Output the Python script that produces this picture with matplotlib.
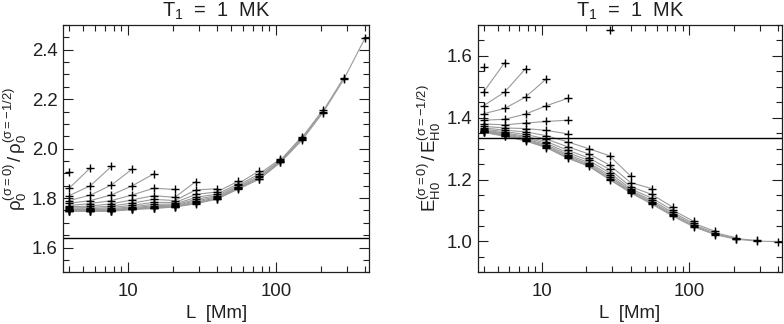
import numpy as np
import matplotlib
matplotlib.use('Agg')
import matplotlib.pyplot as plt
from matplotlib.ticker import LogLocator, MultipleLocator, FixedLocator, FixedFormatter, NullFormatter

plt.rcParams['font.family'] = ['Liberation Sans', 'DejaVu Sans']
plt.rcParams['mathtext.fontset'] = 'custom'
plt.rcParams['mathtext.rm'] = 'Liberation Sans'
plt.rcParams['mathtext.it'] = 'Liberation Sans:italic'
plt.rcParams['mathtext.default'] = 'regular'

# loop lengths L [Mm]
L_values = [4.0, 5.56, 7.72, 10.7, 14.9, 20.7, 28.7, 39.9, 55.4, 76.9, 107, 149, 207, 287, 400]

# Left panel: rho ratio; for each L, values from the curve ending at that L down to the lowest curve
rho_c00 = [1.905, 1.840, 1.810, 1.790, 1.779, 1.770, 1.765, 1.760, 1.756, 1.753, 1.751, 1.750, 1.749, 1.748, 1.747]
rho_c01 = [1.922, 1.850, 1.812, 1.790, 1.778, 1.768, 1.762, 1.757, 1.754, 1.752, 1.750, 1.749, 1.748, 1.747]
rho_c02 = [1.928, 1.853, 1.813, 1.790, 1.777, 1.768, 1.762, 1.757, 1.753, 1.751, 1.749, 1.748, 1.747]
rho_c03 = [1.918, 1.850, 1.813, 1.793, 1.780, 1.771, 1.765, 1.761, 1.758, 1.756, 1.755, 1.754]
rho_c04 = [1.898, 1.840, 1.810, 1.795, 1.783, 1.775, 1.769, 1.765, 1.762, 1.760, 1.758]
rho_c05 = [1.835, 1.803, 1.790, 1.782, 1.776, 1.772, 1.769, 1.767, 1.765, 1.764]
rho_c06 = [1.867, 1.833, 1.815, 1.803, 1.795, 1.789, 1.784, 1.780, 1.777]
rho_c07 = [1.838, 1.825, 1.816, 1.810, 1.805, 1.801, 1.798, 1.796]
rho_c08 = [1.868, 1.858, 1.851, 1.846, 1.842, 1.839, 1.836]
rho_c09 = [1.910, 1.898, 1.890, 1.884, 1.879, 1.876]
rho_c10 = [1.958, 1.953, 1.949, 1.946, 1.944]
rho_c11 = [2.048, 2.043, 2.038, 2.033]
rho_c12 = [2.156, 2.150, 2.145]
rho_c13 = [2.287, 2.280]
rho_c14 = [2.448]
rho_line = 1.64

# Right panel: E_H0 ratio (nan = no solution)
eh_c00 = [1.565, 1.483, 1.439, 1.413, 1.392, 1.380, 1.372, 1.367, 1.363, 1.360, 1.358, 1.356, 1.355, 1.354, 1.353]
eh_c01 = [1.578, 1.483, 1.430, 1.395, 1.377, 1.367, 1.360, 1.355, 1.351, 1.348, 1.346, 1.344, 1.342, 1.340]
eh_c02 = [1.559, 1.467, 1.412, 1.383, 1.365, 1.354, 1.346, 1.340, 1.336, 1.332, 1.329, 1.327, 1.325]
eh_c03 = [1.526, 1.439, 1.388, 1.359, 1.342, 1.331, 1.323, 1.317, 1.312, 1.308, 1.305, 1.303]
eh_c04 = [1.463, 1.392, 1.348, 1.322, 1.306, 1.295, 1.287, 1.281, 1.276, 1.272, 1.269]
eh_c05 = [np.nan, np.nan, 1.300, 1.283, 1.270, 1.262, 1.255, 1.250, 1.246, 1.243]
eh_c06 = [1.683, 1.277, 1.247, 1.233, 1.222, 1.214, 1.208, 1.203, 1.200]
eh_c07 = [1.211, 1.190, 1.177, 1.170, 1.165, 1.162, 1.159, 1.157]
eh_c08 = [1.171, 1.152, 1.140, 1.133, 1.128, 1.124, 1.121]
eh_c09 = [1.111, 1.101, 1.094, 1.089, 1.085, 1.082]
eh_c10 = [1.065, 1.058, 1.053, 1.050, 1.047]
eh_c11 = [1.033, 1.028, 1.024, 1.022]
eh_c12 = [1.012, 1.009, 1.007]
eh_c13 = [1.003, 1.001]
eh_c14 = [0.999]
eh_line = 4.0 / 3.0

rho_cols = [rho_c00, rho_c01, rho_c02, rho_c03, rho_c04, rho_c05, rho_c06, rho_c07,
            rho_c08, rho_c09, rho_c10, rho_c11, rho_c12, rho_c13, rho_c14]
eh_cols = [eh_c00, eh_c01, eh_c02, eh_c03, eh_c04, eh_c05, eh_c06, eh_c07,
           eh_c08, eh_c09, eh_c10, eh_c11, eh_c12, eh_c13, eh_c14]

title_text = r'T$_1$  =  1  MK'
xlabel_text = 'L  [Mm]'
ylabel_left = r'$ρ_0^{(σ=0)}$$\,/\,$$ρ_0^{(σ=-1/2)}$'
ylabel_right = r'$E_{H0}^{(σ=0)}$$\,/\,$$E_{H0}^{(σ=-1/2)}$'


def curves_from_cols(cols):
    n = len(cols)
    curves = []
    for k in range(n):
        ys = [cols[i][k - i] for i in range(k + 1)]
        curves.append((L_values[:k + 1], ys))
    return curves


fig = plt.figure(figsize=(7.84, 3.24), dpi=100)
axL = fig.add_axes([0.0807, 0.1596, 0.3900, 0.7632])
axR = fig.add_axes([0.6093, 0.1596, 0.3881, 0.7632])

FS = 13.4


def style(ax, ylim, ymaj):
    ax.set_xscale('log')
    ax.set_xlim(3.65, 425)
    ax.set_ylim(*ylim)
    ax.xaxis.set_major_locator(FixedLocator([10, 100]))
    ax.xaxis.set_major_formatter(FixedFormatter(['10', '100']))
    ax.xaxis.set_minor_locator(LogLocator(base=10, subs=np.arange(2, 10)))
    ax.xaxis.set_minor_formatter(NullFormatter())
    ax.yaxis.set_major_locator(MultipleLocator(ymaj))
    ax.yaxis.set_minor_locator(MultipleLocator(0.05))
    ax.yaxis.set_major_formatter(matplotlib.ticker.FormatStrFormatter('%.1f'))
    ax.tick_params(which='both', direction='in', top=True, right=True, width=0.8, color='#202020')
    ax.tick_params(which='major', length=7)
    ax.tick_params(which='minor', length=4)
    ax.tick_params(axis='x', which='major', pad=8, labelsize=FS, labelcolor='#202020')
    ax.tick_params(axis='y', which='major', pad=4, labelsize=FS, labelcolor='#202020')
    for s in ax.spines.values():
        s.set_linewidth(0.9)
        s.set_color('#202020')
    ax.set_title(title_text, fontsize=FS + 1, pad=6, color='#202020')
    ax.set_xlabel(xlabel_text, fontsize=FS, labelpad=3, color='#202020')


def draw(ax, cols, hline):
    curves = curves_from_cols(cols)
    for xs, ys in curves:
        ax.plot(xs, ys, color='#9a9a9a', lw=0.8, zorder=2)
    for xs, ys in curves:
        ax.plot(xs, ys, ls='none', marker='+', ms=6, mew=1.0, color='black', zorder=3)
    ax.axhline(hline, color='black', lw=1.0, zorder=2)


style(axL, (1.5, 2.5), 0.2)
draw(axL, rho_cols, rho_line)
axL.set_ylabel(ylabel_left, fontsize=FS, labelpad=2, color='#202020')

style(axR, (0.9, 1.7), 0.2)
draw(axR, eh_cols, eh_line)
axR.set_ylabel(ylabel_right, fontsize=FS, labelpad=2, color='#202020')

fig.savefig('out.png', dpi=100)
